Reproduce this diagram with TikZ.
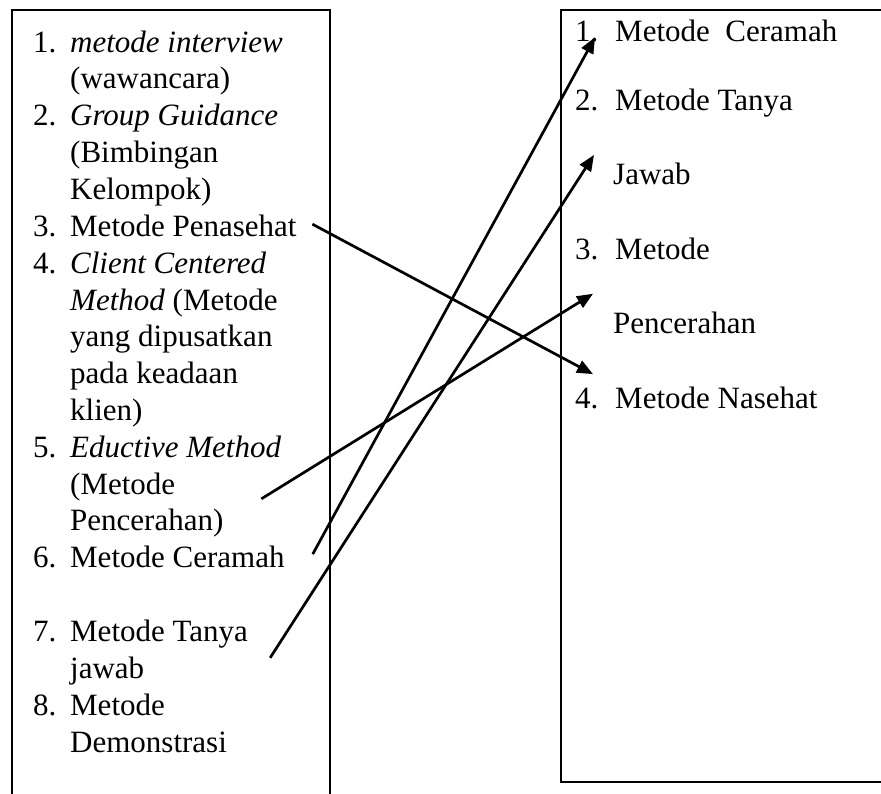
\documentclass[tikz,border=0pt]{standalone}
\usepackage{fontspec}
\setmainfont{Liberation Serif}
\usepackage{tikz}
\usetikzlibrary{positioning, arrows.meta}
\newcommand{\numlbl}[2][37pt]{\makebox[#1][l]{#2}}
\newcommand{\hangsp}[1][37pt]{\hspace*{#1}}
\newcommand{\itemlines}[1]{\begin{tabular}{@{}l@{}}#1\end{tabular}}
\tikzstyle{listitem} = [anchor=north west, inner sep=0pt, font=\fontsize{31pt}{36.7pt}\selectfont]
\tikzstyle{frame}    = [line width=2.7pt]
\tikzstyle{arrow}    = [line width=2.7pt, -{Triangle[length=16pt,width=13pt]}]

\begin{document}
\begin{tikzpicture}[x=1pt, y=-1pt]
      \useasboundingbox (0,0) rectangle (881,794);

      % left list
      \draw [frame] (12,794) -- (12,10) -- (330,10) -- (330,794);
      \node (i1) [listitem] at (33,26.3) {\itemlines{\numlbl{1.}\textit{metode interview}\\\hangsp(wawancara)}};
      \node (i2) [listitem, below=0pt of i1.south west, anchor=north west] {\itemlines{\numlbl{2.}\textit{Group Guidance}\\\hangsp(Bimbingan\\\hangsp Kelompok)}};
      \node (i3) [listitem, below=0pt of i2.south west, anchor=north west] {\itemlines{\numlbl{3.}Metode Penasehat}};
      \node (i4) [listitem, below=0pt of i3.south west, anchor=north west] {\itemlines{\numlbl{4.}\textit{Client Centered}\\\hangsp\textit{Method} (Metode\\\hangsp yang dipusatkan\\\hangsp pada keadaan\\\hangsp klien)}};
      \node (i5) [listitem, below=0pt of i4.south west, anchor=north west] {\itemlines{\numlbl{5.}\textit{Eductive Method}\\\hangsp(Metode\\\hangsp Pencerahan)}};
      \node (i6) [listitem, below=0pt of i5.south west, anchor=north west] {\itemlines{\numlbl{6.}Metode Ceramah}};
      \node (i7) [listitem, below=36.7pt of i6.south west, anchor=north west] {\itemlines{\numlbl{7.}Metode Tanya\\\hangsp jawab}};
      \node (i8) [listitem, below=0pt of i7.south west, anchor=north west] {\itemlines{\numlbl{8.}Metode\\\hangsp Demonstrasi}};

      % right list
      \draw [frame] (881,10) -- (561,10) -- (561,782) -- (881,782);
      \node (r1)  [listitem] at (575,15.3) {\itemlines{\numlbl[40pt]{1.}Metode\ \ Ceramah}};
      \node (r2)  [listitem, below=32.3pt of r1.south west, anchor=north west] {\itemlines{\numlbl[40pt]{2.}Metode Tanya}};
      \node (r2b) [listitem, below=37.3pt of r2.south west, anchor=north west] {\itemlines{\hangsp[38pt]Jawab}};
      \node (r3)  [listitem, below=37.3pt of r2b.south west, anchor=north west] {\itemlines{\numlbl[40pt]{3.}Metode}};
      \node (r3b) [listitem, below=37.3pt of r3.south west, anchor=north west] {\itemlines{\hangsp[38pt]Pencerahan}};
      \node (r4)  [listitem, below=37.3pt of r3b.south west, anchor=north west] {\itemlines{\numlbl[40pt]{4.}Metode Nasehat}};

      \draw [arrow] ([xshift=15.6pt,yshift=5pt]i3.east) -- ([xshift=18pt,yshift=26.7pt]r4.west);
      \draw [arrow] ([xshift=-20pt,yshift=-12pt]i5.east) -- ([xshift=18pt,yshift=32.7pt]r3b.west);
      \draw [arrow] ([xshift=28pt,yshift=6.5pt]i6.east) -- ([xshift=20pt,yshift=-3.4pt]r1.west);
      \draw [arrow] ([xshift=22pt,yshift=-5pt]i7.east) -- ([xshift=19pt,yshift=22.7pt]r2b.west);

    \end{tikzpicture}
\end{document}
